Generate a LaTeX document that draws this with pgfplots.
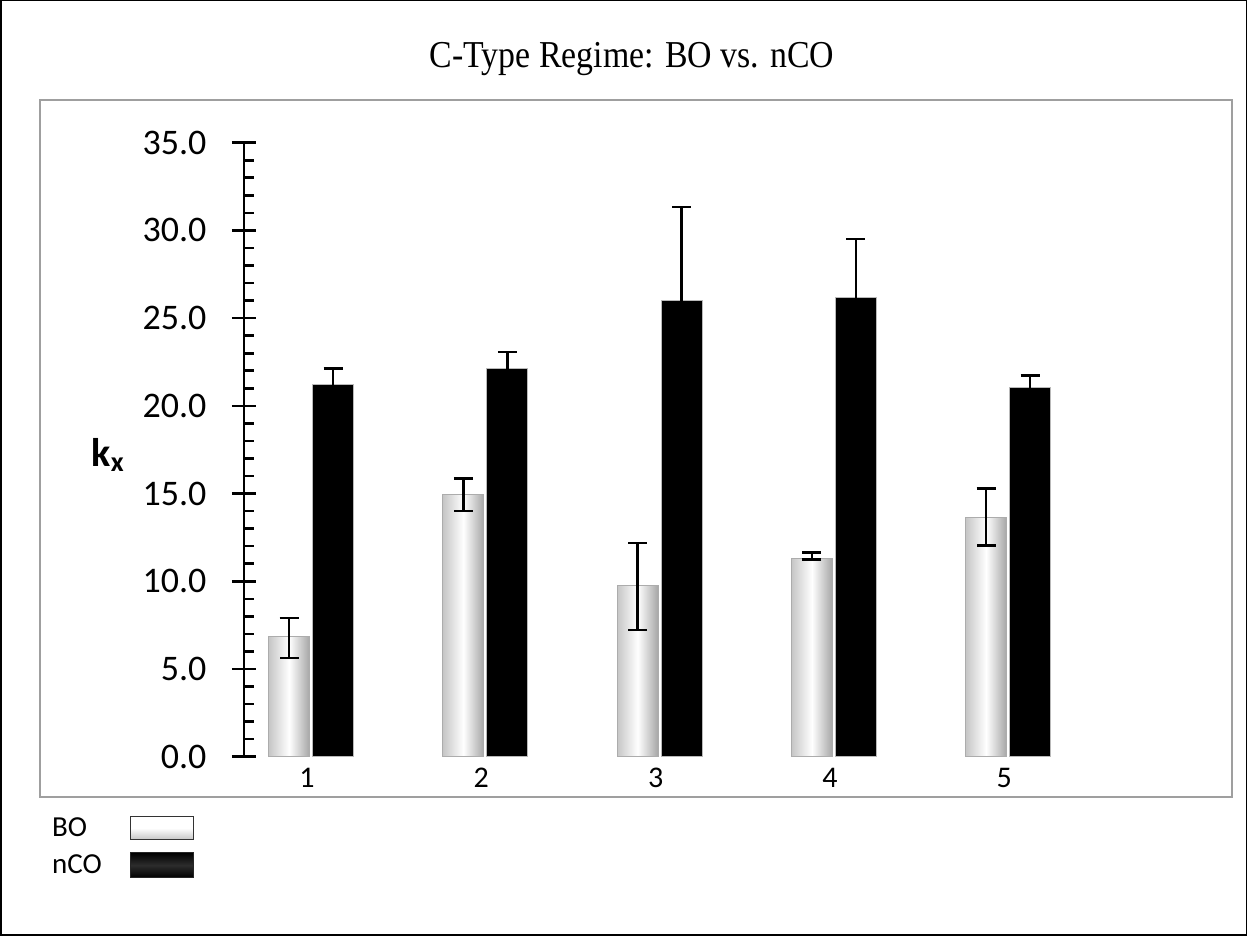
\documentclass[border=0pt]{standalone}
\usepackage{fontspec}
\setmainfont{Carlito}
\newfontfamily\titlefont{Liberation Serif}
\usepackage{pgfplots}
\pgfplotsset{compat=1.18}
\pgfplotsset{
  bostyle/.style={ybar, bar width=0.2353, bar shift=0,
    draw=gray!65, line width=1pt, left color=gray!45, right color=gray!70, middle color=white,
    legend image code/.code={\draw[draw=gray!40!black, line width=1pt, top color=white, bottom color=gray!45, middle color=white] (0pt,-11.5pt) rectangle (63pt,11.5pt);},
    error bars/y dir=both, error bars/y explicit,
    error bars/error bar style={line width=2.4pt, black},
    error bars/error mark options={rotate=90, mark size=9.5pt, line width=2.4pt, black}},
  ncostyle/.style={ybar, bar width=0.2353, bar shift=0,
    draw=gray!55, line width=1pt, fill=black,
    legend image code/.code={\draw[draw=gray!30!black, line width=1pt, top color=black, bottom color=black, middle color=gray!35!black] (0pt,-12.5pt) rectangle (63pt,12.5pt);},
    error bars/y dir=both, error bars/y explicit,
    error bars/error bar style={line width=2.4pt, black},
    error bars/error mark options={rotate=90, mark size=9.5pt, line width=2.4pt, black}},
}
\begin{document}
\begin{tikzpicture}
\path[use as bounding box] (0pt,0pt) rectangle (1247pt,936pt);
\draw[black, line width=1.5pt] (0.75pt,0.75pt) rectangle (1246.25pt,935.25pt);
\draw[gray!75, line width=2.7pt] (40pt,139pt) rectangle (1232pt,836pt);
\begin{axis}[
  at={(244pt,179.3pt)}, anchor=south west,
  scale only axis, width=831.2pt, height=614pt,
  xmin=0.615, xmax=5.385, ymin=0, ymax=35,
  axis x line*=bottom, axis y line*=left,
  x axis line style={draw=none},
  y axis line style={line width=2.8pt},
  xtick={1,2,3,4,5},
  xticklabels={1,2,3,4,5},
  xtick style={draw=none},
  xticklabel style={font=\fontsize{30}{32}\selectfont, anchor=center, yshift=-21pt, xshift=-4pt},
  ytick={0,5,...,35},
  minor y tick num=4,
  ytick align=center,
  major tick length=24pt,
  minor tick length=10pt,
  ytick style={line width=2.6pt, black},
  minor y tick style={line width=2.6pt, black, xshift=5pt},
  yticklabel style={font=\fontsize{36}{38}\selectfont, anchor=east, xshift=-22pt},
  /pgf/number format/.cd, fixed, fixed zerofill, precision=1, assume math mode=true,
  /pgfplots/.cd,
  ylabel={\textbf{k\textsubscript{x}}},
  every axis y label/.style={at={(axis description cs:-0.1636,0.4914)}, anchor=center, font=\fontsize{40}{42}\selectfont},
  title={\titlefont\fontsize{38}{40}\selectfont\scalebox{0.89}[1]{C-Type Regime: BO vs. nCO}},
  every axis title/.style={at={(axis description cs:0.4668,1.137)}, anchor=center},
  legend style={at={(axis description cs:-0.2334,-0.096)}, anchor=north west, draw=none, fill=none,
    font=\fontsize{29}{31}\selectfont, row sep=12pt, column sep=26pt, inner sep=0pt},
  legend cell align=left,
  legend plot pos=right,
  clip=false,
]
% BO (bars at category - 0.126)
\addplot[bostyle] coordinates {(0.874,6.84) += (0,1.05) -= (0,1.20)};
\addlegendentry{BO}
\addplot[forget plot, bostyle] coordinates {(1.874,14.92) += (0,0.93) -= (0,0.92)};
\addplot[forget plot, bostyle] coordinates {(2.874,9.75) += (0,2.42) -= (0,2.53)};
\addplot[forget plot, bostyle] coordinates {(3.874,11.27) += (0,0.36) -= (0,0.02)};
\addplot[forget plot, bostyle] coordinates {(4.874,13.63) += (0,1.65) -= (0,1.60)};
% nCO (bars at category + 0.126)
\addplot[ncostyle] coordinates {
 (1.126,21.19) += (0,0.93) -= (0,1.37)
 (2.126,22.12) += (0,0.95) -= (0,0.93)
 (3.126,26.00) += (0,5.34) -= (0,5.53)
 (4.126,26.17) += (0,3.33) -= (0,3.37)
 (5.126,21.04) += (0,0.70) -= (0,0.74)
};
\addlegendentry{nCO}
\end{axis}
\end{tikzpicture}
\end{document}
